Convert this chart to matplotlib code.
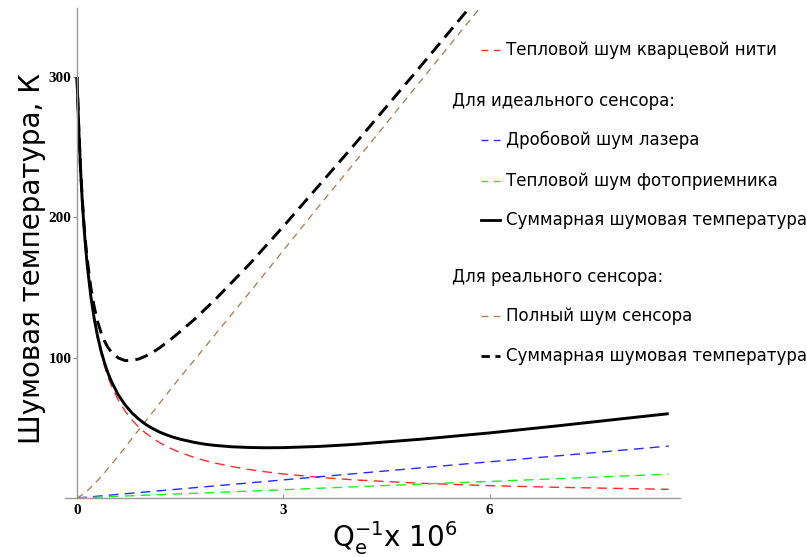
import matplotlib
matplotlib.use("Agg")
import matplotlib.pyplot as plt
from matplotlib.lines import Line2D

plt.rcParams['mathtext.fontset'] = 'dejavusans'

W, H = 807, 557

# Q_e^-1 x 10^6
x_ideal = [0, 0.025, 0.05, 0.075, 0.1, 0.125, 0.15, 0.2, 0.25, 0.3,
           0.35, 0.4, 0.45, 0.5, 0.6, 0.7, 0.8, 0.9, 1.0, 1.1,
           1.2, 1.3, 1.4, 1.5, 1.7, 1.85, 2.0, 2.25, 2.5, 2.75,
           3.0, 3.5, 4.0, 5.0, 6.0, 7.0, 8.0, 8.6]

# thermal noise of the quartz fibre, K
t_fiber = [300, 264, 235.3, 212.4, 193.5, 177.8, 164.4, 142.9, 126.3, 113.2,
           102.6, 93.8, 86.3, 80.0, 69.8, 61.9, 55.6, 50.4, 46.2, 42.6,
           39.5, 36.8, 34.5, 32.4, 29.0, 26.8, 25.0, 22.4, 20.3, 18.6,
           17.1, 14.8, 13.0, 10.5, 8.8, 7.6, 6.7, 6.2]

# total noise temperature, ideal sensor, K
t_total_ideal = [300, 264.2, 235.6, 212.9, 194.1, 178.6, 165.3, 144.1, 127.9, 115.1,
                 104.8, 96.3, 89.1, 83.1, 73.5, 66.3, 60.6, 56.1, 52.4, 49.5,
                 47.0, 45.0, 43.3, 41.9, 39.7, 38.4, 37.5, 36.5, 36.0, 35.8,
                 35.9, 36.7, 38.1, 41.9, 46.4, 51.5, 56.9, 60.1]

x_lin = [0, 1, 2, 3, 4, 5, 6, 7, 8, 8.6]
# laser shot noise, K
t_shot = [0, 4.3, 8.6, 12.9, 17.2, 21.5, 25.8, 30.1, 34.4, 37.0]
# photodetector thermal noise, K
t_photo = [0, 2.0, 3.9, 5.9, 7.9, 9.9, 11.8, 13.8, 15.8, 17.0]

x_real = [0, 0.025, 0.05, 0.075, 0.1, 0.125, 0.15, 0.2, 0.25, 0.3,
          0.35, 0.4, 0.45, 0.5, 0.6, 0.7, 0.8, 0.9, 1.0, 1.1,
          1.2, 1.4, 1.7, 2.0, 2.5, 3.0, 3.5, 4.0, 5.0, 6.0]

# full noise of the real sensor, K
t_sensor = [0, 0.7, 1.4, 2.2, 3.0, 4.1, 5.2, 7.5, 10.0, 12.5,
            15.2, 18.0, 21.0, 24.0, 30.0, 36.0, 42.5, 48.7, 55.0, 61.2,
            67.5, 80.0, 98.0, 116.0, 146.0, 176.5, 207.0, 237.0, 297.5, 358.0]

# total noise temperature, real sensor, K
t_total_real = [300, 264.7, 236.7, 214.6, 196.5, 181.9, 169.6, 150.4, 136.3, 125.7,
                117.8, 111.8, 107.3, 104.0, 99.8, 97.9, 98.1, 99.1, 101.2, 103.8,
                107.0, 114.5, 127.0, 141.0, 166.3, 193.6, 221.8, 250.0, 308.0, 366.8]

x_ticks = [0, 3, 6]
y_ticks = [100, 200, 300]

C_RED = '#ff2a2a'
C_BLUE = '#2a2aff'
C_GREEN = '#22ee22'
C_BROWN = '#b08458'

fig = plt.figure(figsize=(W / 100, H / 100), dpi=100)
ax = fig.add_axes([65.3 / W, 59 / H, 614.4 / W, 489.7 / H])
ax.set_xlim(-0.17, 8.76)
ax.set_ylim(0, 349)

thin = dict(lw=1.0, dashes=(7, 4.5))
ax.plot(x_ideal, t_fiber, color=C_RED, **thin)
ax.plot(x_lin, t_shot, color=C_BLUE, **thin)
ax.plot(x_lin, t_photo, color=C_GREEN, **thin)
ax.plot(x_real, t_sensor, color=C_BROWN, lw=1.0, dashes=(5, 4))
ax.plot(x_ideal, t_total_ideal, color='black', lw=2.1, solid_capstyle='butt',
        solid_joinstyle='round')
ax.plot(x_real, t_total_real, color='black', lw=2.1, dashes=(4.5, 2.5))

for side in ('top', 'right'):
    ax.spines[side].set_visible(False)
ax.spines['left'].set_position(('data', 0))
for side in ('left', 'bottom'):
    ax.spines[side].set_color('#999999')
    ax.spines[side].set_linewidth(1.0)

tick_font = dict(family='Liberation Serif', weight='bold', size=11)
ax.set_xticks(x_ticks)
ax.set_xticklabels([str(v) for v in x_ticks], **tick_font)
ax.set_yticks(y_ticks)
ax.set_yticklabels([str(v) for v in y_ticks], **tick_font)
ax.tick_params(axis='x', direction='in', length=3, width=0.8, color='#999999', pad=4)
ax.tick_params(axis='y', direction='out', length=3, width=0.8, color='#999999', pad=1)

fig.text(32 / W, 1 - 258 / H, 'Шумовая температура, К', rotation=90,
         ha='center', va='center', fontsize=20, family='DejaVu Sans')
fig.text(395 / W, 1 - 538 / H, r'$\mathrm{Q}_\mathrm{e}^{-1}$x 10$^{6}$',
         ha='center', va='center', fontsize=20, family='DejaVu Sans')

# key on the right
def key_row(py, text, color=None, ls=None, lw=1.0):
    y = 1 - py / H
    if color is not None:
        line = Line2D([481 / W, 500 / W], [y, y], transform=fig.transFigure,
                      color=color, lw=lw)
        if ls is not None:
            line.set_dashes(ls)
        fig.add_artist(line)
        x_text = 506 / W
    else:
        x_text = 452 / W
    fig.text(x_text, y, text, ha='left', va='center', fontsize=12,
             family='DejaVu Sans')

key_row(50, 'Тепловой шум кварцевой нити', C_RED, (5, 4))
key_row(101, 'Для идеального сенсора:')
key_row(140, 'Дробовой шум лазера', C_BLUE, (5, 4))
key_row(181, 'Тепловой шум фотоприемника', C_GREEN, (5, 4))
key_row(220, 'Суммарная шумовая температура', 'black', None, 2.0)
key_row(277, 'Для реального сенсора:')
key_row(316, 'Полный шум сенсора', C_BROWN, (5, 4))
key_row(356, 'Суммарная шумовая температура', 'black', (3, 2), 2.0)

fig.savefig('out.png', dpi=100)
